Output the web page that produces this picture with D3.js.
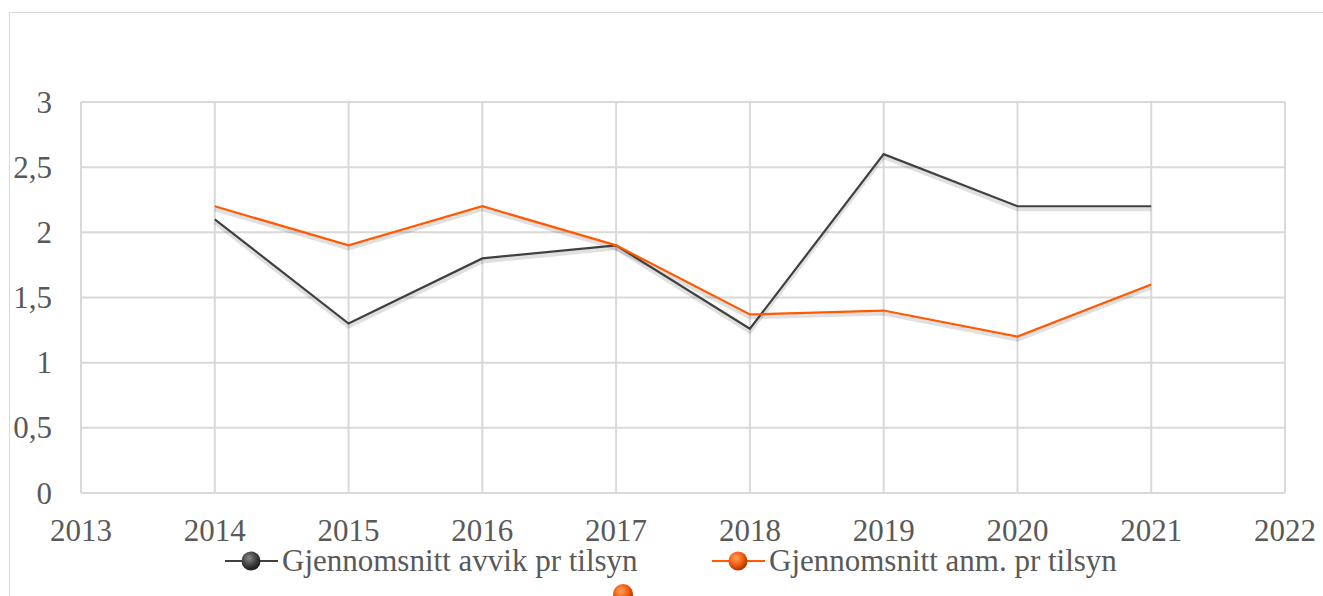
<!DOCTYPE html>
<html>
<head>
<meta charset="utf-8">
<script src="https://cdn.jsdelivr.net/npm/d3@7"></script>
</head>
<body style="margin:0">
<div class="chart"></div>
<script>
var years = [2014, 2015, 2016, 2017, 2018, 2019, 2020, 2021];
var avvik = [2.1, 1.3, 1.8, 1.9, 1.26, 2.6, 2.2, 2.2];
var anm = [2.2, 1.9, 2.2, 1.9, 1.37, 1.4, 1.2, 1.6];
var yTicks = [0, 0.5, 1, 1.5, 2, 2.5, 3];
var xTicks = [2013, 2014, 2015, 2016, 2017, 2018, 2019, 2020, 2021, 2022];
var seriesNames = ["Gjennomsnitt avvik pr tilsyn", "Gjennomsnitt anm. pr tilsyn"];

var width = 1323;
var height = 596;
var margin = { left: 81, right: 38, top: 102, bottom: 103 };
var font = "'Times New Roman'";

var svg = d3.select(".chart")
            .append("svg")
            .attr("width", width)
            .attr("height", height)
            .style("display", "block");

var defs = svg.append("defs");

function ball(id, light, mid, dark) {
  var g = defs.append("radialGradient")
              .attr("id", id)
              .attr("cx", "40%").attr("cy", "35%").attr("r", "65%");
  g.append("stop").attr("offset", "0%").attr("stop-color", light);
  g.append("stop").attr("offset", "60%").attr("stop-color", mid);
  g.append("stop").attr("offset", "100%").attr("stop-color", dark);
}
ball("ballDark", "#8a8a8a", "#404040", "#1a1a1a");
ball("ballOrange", "#ffa060", "#f25a0a", "#a83500");

// outer chart frame
svg.append("rect")
   .attr("x", 9.5).attr("y", 12.5)
   .attr("width", width + 20).attr("height", height + 20)
   .attr("fill", "none")
   .attr("stroke", "#d9d9d9")
   .attr("stroke-width", 1);

var xScale = d3.scaleLinear()
               .domain([2013, 2022])
               .range([margin.left, width - margin.right]);

var yScale = d3.scaleLinear()
               .domain([0, 3])
               .range([height - margin.bottom, margin.top]);

// gridlines
svg.append("g")
   .selectAll("line")
   .data(yTicks)
   .enter()
   .append("line")
   .attr("x1", xScale(2013)).attr("x2", xScale(2022))
   .attr("y1", function(d) { return yScale(d); })
   .attr("y2", function(d) { return yScale(d); })
   .attr("stroke", "#d9d9d9")
   .attr("stroke-width", 2);

svg.append("g")
   .selectAll("line")
   .data(xTicks)
   .enter()
   .append("line")
   .attr("x1", function(d) { return xScale(d); })
   .attr("x2", function(d) { return xScale(d); })
   .attr("y1", yScale(0)).attr("y2", yScale(3))
   .attr("stroke", "#d9d9d9")
   .attr("stroke-width", 2);

// tick labels
svg.selectAll("text.ylab")
   .data(yTicks)
   .enter()
   .append("text")
   .attr("class", "ylab")
   .attr("x", margin.left - 29)
   .attr("y", function(d) { return yScale(d) + 10.5; })
   .attr("text-anchor", "end")
   .style("font-family", font)
   .style("font-size", "31px")
   .style("fill", "#595959")
   .text(function(d) { return String(d).replace(".", ","); });

svg.selectAll("text.xlab")
   .data(xTicks)
   .enter()
   .append("text")
   .attr("class", "xlab")
   .attr("x", function(d) { return xScale(d); })
   .attr("y", yScale(0) + 48)
   .attr("text-anchor", "middle")
   .style("font-family", font)
   .style("font-size", "31px")
   .style("fill", "#595959")
   .text(function(d) { return d; });

// lines with a soft shadow underneath
var line = d3.line()
             .x(function(d, i) { return xScale(years[i]); })
             .y(function(d) { return yScale(d); });

[avvik, anm].forEach(function(vals) {
  svg.append("path")
     .datum(vals)
     .attr("d", line)
     .attr("transform", "translate(0,3)")
     .attr("fill", "none")
     .attr("stroke", "#000")
     .attr("stroke-opacity", 0.12)
     .attr("stroke-width", 4);
});

svg.append("path")
   .datum(avvik)
   .attr("d", line)
   .attr("fill", "none")
   .attr("stroke", "#404040")
   .attr("stroke-width", 2.2);

svg.append("path")
   .datum(anm)
   .attr("d", line)
   .attr("fill", "none")
   .attr("stroke", "#ff5a00")
   .attr("stroke-width", 2.2);

// legend
var legendItems = [
  { name: seriesNames[0], x: 225, color: "#404040", ball: "ballDark" },
  { name: seriesNames[1], x: 712, color: "#ff5a00", ball: "ballOrange" }
];

svg.selectAll("line.leg")
   .data(legendItems)
   .enter()
   .append("line")
   .attr("class", "leg")
   .attr("x1", function(d) { return d.x; })
   .attr("x2", function(d) { return d.x + 53; })
   .attr("y1", 561).attr("y2", 561)
   .attr("stroke", function(d) { return d.color; })
   .attr("stroke-width", 2);

svg.selectAll("circle.leg")
   .data(legendItems)
   .enter()
   .append("circle")
   .attr("class", "leg")
   .attr("cx", function(d) { return d.x + 26; })
   .attr("cy", 561)
   .attr("r", 9.5)
   .attr("fill", function(d) { return "url(#" + d.ball + ")"; });

svg.selectAll("text.leg")
   .data(legendItems)
   .enter()
   .append("text")
   .attr("class", "leg")
   .attr("x", function(d) { return d.x + 57; })
   .attr("y", 571)
   .style("font-family", font)
   .style("font-size", "31px")
   .style("fill", "#595959")
   .text(function(d) { return d.name; });

// stray marker at bottom edge
svg.append("circle")
   .attr("cx", 623).attr("cy", 594)
   .attr("r", 10)
   .attr("fill", "url(#ballOrange)");
</script>
</body>
</html>
